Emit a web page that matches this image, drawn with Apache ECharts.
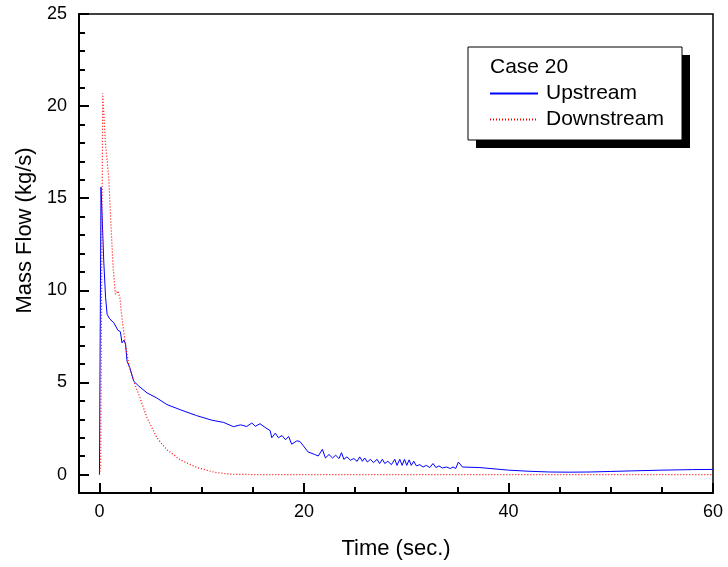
<!DOCTYPE html>
<html>
<head>
<meta charset="utf-8">
<script src="https://cdn.jsdelivr.net/npm/echarts@6/dist/echarts.min.js"></script>
<style>
    html, body { margin: 0; padding: 0; background: #fff; }
    #chart { width: 728px; height: 567px; }
</style>
</head>
<body>
<div id="chart"></div>
<script>
    // Case 20 - mass flow
    const upTime = [0, 0.15, 0.25, 0.42, 0.6, 0.75, 1.0, 1.4, 1.8, 2.05, 2.2, 2.4, 2.55, 2.7, 2.97, 3.35, 3.85,
        4.66, 5.6, 6.6, 7.9, 9.5, 11.0, 12.15, 13.1, 13.8, 14.4, 14.9, 15.25, 15.7, 16.2, 16.7, 16.85, 17.2,
        17.5, 17.85, 18.2, 18.5, 18.8, 19.3, 19.6, 19.9, 20.4, 21.05, 21.4, 21.8, 22.1, 22.45, 22.8, 23.1,
        23.43, 23.67, 23.9, 24.2, 24.55, 24.87, 25.2, 25.45, 25.72, 25.94, 26.2, 26.5, 26.8, 27.15, 27.4,
        27.67, 27.9, 28.2, 28.55, 28.88, 29.1, 29.37, 29.6, 29.83, 30.05, 30.28, 30.5, 30.74, 31.0, 31.32,
        31.65, 31.97, 32.3, 32.62, 32.9, 33.2, 33.54, 33.93, 34.32, 34.58, 34.84, 35.1, 35.5, 37.2, 40, 42,
        44, 46, 48, 50, 52, 55, 58, 60]
    const upFlow = [0, 15.6, 14.2, 11.6, 9.6, 8.7, 8.45, 8.24, 7.84, 7.75, 7.15, 7.3, 7.08, 6.15, 5.8, 5.07, 4.8,
        4.43, 4.16, 3.8, 3.52, 3.2, 2.95, 2.83, 2.6, 2.7, 2.61, 2.8, 2.62, 2.76, 2.56, 2.38, 2.0, 2.25,
        2.0, 2.12, 1.89, 2.07, 1.65, 1.83, 1.8, 1.59, 1.23, 1.09, 1.01, 1.37, 0.9, 1.09, 0.9, 1.05,
        0.87, 1.19, 0.83, 0.96, 0.78, 0.87, 0.72, 0.96, 0.72, 0.9, 0.68, 0.83, 0.65, 0.83, 0.6,
        0.83, 0.6, 0.72, 0.54, 0.83, 0.5, 0.83, 0.5, 0.83, 0.5, 0.8, 0.5, 0.72, 0.47, 0.54,
        0.41, 0.5, 0.38, 0.6, 0.38, 0.47, 0.36, 0.41, 0.33, 0.41, 0.33, 0.68, 0.41, 0.38, 0.24, 0.18,
        0.14, 0.13, 0.14, 0.17, 0.2, 0.24, 0.27, 0.28]

    const downTime = [0, 0.12, 0.32, 0.59, 0.91, 1.14, 1.34, 1.56, 1.8, 2.0, 2.2, 2.54, 2.87, 3.35, 3.85,
        4.66, 5.64, 6.6, 7.9, 9.55, 11.2, 12.8, 15, 60]
    const downFlow = [0, 0.5, 20.7, 17.96, 16.1, 13.4, 11.2, 9.79, 9.97, 9.6, 8.5, 7.06, 5.97, 5.07, 4.34,
        3.07, 1.98, 1.35, 0.8, 0.38, 0.13, 0.02, 0, 0]

    const xMajor = [0, 20, 40, 60]
    const xMinor = [5, 10, 15, 25, 30, 35, 45, 50, 55]
    const yMajor = [0, 5, 10, 15, 20, 25]
    const yMinor = [1, 2, 3, 4, 6, 7, 8, 9, 11, 12, 13, 14, 16, 17, 18, 19, 21, 22, 23, 24]

    const font = 'Liberation Sans, Arial, sans-serif'
    const pairs = (xs, ys) => xs.map((x, i) => [x, ys[i]])

    const chart = echarts.init(document.getElementById('chart'))

    const baseX = {
        type: 'value',
        min: -2,
        max: 60,
        position: 'bottom',
        splitLine: { show: false }
    }
    const baseY = {
        type: 'value',
        min: -1,
        max: 25,
        position: 'left',
        splitLine: { show: false }
    }

    const option = {
        animation: false,
        backgroundColor: '#fff',
        grid: {
            left: 79,
            right: 15,
            top: 14,
            bottom: 74,
            show: true,
            borderColor: '#000',
            borderWidth: 1.5
        },
        graphic: [
            { type: 'rect', shape: { x: 476, y: 55, width: 214, height: 93 }, style: { fill: '#000' }, z: 100 },
            { type: 'rect', shape: { x: 468, y: 47, width: 214, height: 93 },
              style: { fill: '#fff', stroke: '#000', lineWidth: 1 }, z: 101 },
            { type: 'text', left: 490, top: 57, z: 102,
              style: { text: 'Case 20', font: '21px ' + font, fill: '#000' } }
        ],
        legend: {
            data: ['Upstream', 'Downstream'],
            orient: 'vertical',
            left: 489,
            top: 83,
            padding: 0,
            itemGap: 5,
            itemWidth: 48,
            itemHeight: 14,
            z: 103,
            itemStyle: { opacity: 0 },
            textStyle: { fontFamily: font, fontSize: 21, color: '#000', lineHeight: 21, padding: [0, 0, 0, 3] }
        },
        xAxis: [
            Object.assign({}, baseX, {
                name: 'Time (sec.)',
                nameLocation: 'middle',
                nameGap: 45,
                nameTextStyle: { fontFamily: font, fontSize: 22, color: '#000' },
                axisLine: { onZero: false, lineStyle: { color: '#000', width: 2 } },
                axisTick: { inside: true, length: 10, customValues: xMajor, lineStyle: { color: '#000', width: 2 } },
                axisLabel: { customValues: xMajor, margin: 10, fontFamily: font, fontSize: 18, color: '#000' }
            }),
            Object.assign({}, baseX, {
                axisLine: { show: false, onZero: false },
                axisTick: { inside: true, length: 6, customValues: xMinor, lineStyle: { color: '#000', width: 2 } },
                axisLabel: { show: false }
            })
        ],
        yAxis: [
            Object.assign({}, baseY, {
                name: 'Mass Flow (kg/s)',
                nameLocation: 'middle',
                nameGap: 42,
                nameTextStyle: { fontFamily: font, fontSize: 22, color: '#000', padding: [0, 0, 0, 46] },
                axisLine: { onZero: false, lineStyle: { color: '#000', width: 2 } },
                axisTick: { inside: true, length: 10, customValues: yMajor, lineStyle: { color: '#000', width: 2 } },
                axisLabel: { customValues: yMajor, margin: 12, fontFamily: font, fontSize: 18, color: '#000' }
            }),
            Object.assign({}, baseY, {
                axisLine: { show: false, onZero: false },
                axisTick: { inside: true, length: 6, customValues: yMinor, lineStyle: { color: '#000', width: 2 } },
                axisLabel: { show: false }
            })
        ],
        series: [
            {
                name: 'Upstream',
                type: 'line',
                symbol: 'none',
                data: pairs(upTime, upFlow),
                lineStyle: { color: '#0000ff', width: 1 },
                itemStyle: { color: '#0000ff' }
            },
            {
                name: 'Downstream',
                type: 'line',
                symbol: 'none',
                data: pairs(downTime, downFlow),
                lineStyle: { color: '#ff0000', width: 1.2, type: [1, 2] },
                itemStyle: { color: '#ff0000' }
            }
        ]
    }
    chart.setOption(option)
</script>
</body>
</html>
